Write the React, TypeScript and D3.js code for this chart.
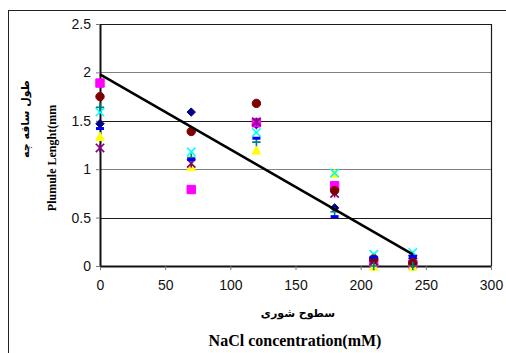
import React, { useEffect, useRef } from "react";
import * as d3 from "d3";

// salinity levels (mM NaCl)
const salinity = [0, 70, 120, 180, 210, 240];

// plumule length per cultivar (mm)
const seriesDiamond = [1.47, 1.59, 1.46, 0.6, 0.09, 0.08];
const seriesSquare = [1.89, 0.79, 1.48, 0.83, 0.03, 0.02];
const seriesTriangle = [1.34, 1.03, 1.2, 0.96, 0.0, 0.0];
const seriesX = [1.59, 1.18, 1.38, 0.96, 0.12, 0.14];
const seriesStar = [1.22, 1.06, 1.49, 0.75, 0.05, 0.07];
const seriesCircle = [1.75, 1.39, 1.68, 0.78, 0.07, 0.03];
const seriesPlus = [1.64, 1.12, 1.28, 0.56, 0.0, 0.0];
const seriesDash = [1.42, 1.1, 1.32, 0.51, 0.09, 0.1];

// linear trend line end points
const trendX = [0, 240];
const trendY = [1.98, 0.12];

const xTicks = [0, 50, 100, 150, 200, 250, 300];
const yTicks = [0, 0.5, 1, 1.5, 2, 2.5];

const series = [
  { name: "diamond", values: seriesDiamond, color: "#000080" },
  { name: "square", values: seriesSquare, color: "#ff00ff" },
  { name: "triangle", values: seriesTriangle, color: "#ffff00" },
  { name: "x", values: seriesX, color: "#00ffff" },
  { name: "star", values: seriesStar, color: "#800080" },
  { name: "circle", values: seriesCircle, color: "#800000" },
  { name: "plus", values: seriesPlus, color: "#008080" },
  { name: "dash", values: seriesDash, color: "#0000ff" },
];

const markerPath = (shape: string, s: number) => {
  switch (shape) {
    case "diamond":
      return `M0,${-s}L${s},0L0,${s}L${-s},0Z`;
    case "square":
      return `M${-s},${-s}H${s}V${s}H${-s}Z`;
    case "triangle":
      return `M0,${-s}L${s},${s}H${-s}Z`;
    case "circle":
      return `M${s},0A${s},${s},0,1,1,${-s},0A${s},${s},0,1,1,${s},0Z`;
    case "x":
      return `M${-s},${-s}L${s},${s}M${-s},${s}L${s},${-s}`;
    case "star":
      return `M${-s},${-s}L${s},${s}M${-s},${s}L${s},${-s}M0,${-s}V${s}`;
    case "plus":
      return `M${-s},0H${s}M0,${-s}V${s}`;
    default:
      return `M${-s},0H${s}`;
  }
};

const App = () => {
  const ref = useRef<SVGSVGElement>(null);

  useEffect(() => {
    const svg = d3.select(ref.current);
    svg.selectAll("*").remove();

    const x = d3.scaleLinear().domain([0, 300]).range([100, 491]);
    const y = d3.scaleLinear().domain([0, 2.5]).range([266, 24]);

    // outer frame (clipped at right and bottom)
    svg
      .append("rect")
      .attr("x", 8.5)
      .attr("y", 10.5)
      .attr("width", 520)
      .attr("height", 360)
      .attr("fill", "none")
      .attr("stroke", "#222")
      .attr("stroke-width", 1);

    // gridlines
    svg
      .append("g")
      .selectAll("line")
      .data(yTicks.filter((d) => d > 0 && d < 2.5))
      .enter()
      .append("line")
      .attr("x1", x(0))
      .attr("x2", x(300))
      .attr("y1", (d) => Math.round(y(d)) + 0.5)
      .attr("y2", (d) => Math.round(y(d)) + 0.5)
      .attr("stroke", (d) => (d === 1 || d === 2 ? "#808080" : "#1a1a1a"))
      .attr("stroke-width", 1);

    // plot border top / right
    svg
      .append("path")
      .attr("d", `M${x(0)},${y(2.5) + 0.5}H${x(300) + 0.5}V${y(0)}`)
      .attr("fill", "none")
      .attr("stroke", "#1a1a1a")
      .attr("stroke-width", 1.2);

    const font = "'Liberation Sans', Arial, sans-serif";
    const serif = "'Liberation Serif', serif";

    // x axis
    const xAxis = svg
      .append("g")
      .attr("transform", `translate(0,${y(0)})`)
      .call(
        d3
          .axisBottom(x)
          .tickValues(xTicks)
          .tickSize(4)
          .tickSizeOuter(0)
          .tickFormat((d) => String(d))
      );
    xAxis.select(".domain").attr("stroke", "#111").attr("stroke-width", 2);
    xAxis.selectAll(".tick line").attr("stroke", "#777");
    xAxis
      .selectAll("text")
      .attr("y", 14)
      .attr("fill", "#111")
      .style("font-family", font)
      .style("font-size", "14px");

    // y axis
    const yAxis = svg
      .append("g")
      .attr("transform", `translate(${x(0)},0)`)
      .call(
        d3
          .axisLeft(y)
          .tickValues(yTicks)
          .tickSize(4)
          .tickSizeOuter(0)
          .tickFormat((d) => String(d))
      );
    yAxis.select(".domain").attr("stroke", "#111").attr("stroke-width", 2);
    yAxis.selectAll(".tick line").attr("stroke", "#777");
    yAxis
      .selectAll("text")
      .attr("x", -9)
      .attr("fill", "#111")
      .style("font-family", font)
      .style("font-size", "14px");

    // data markers
    series.forEach((s) => {
      const filled = ["diamond", "square", "triangle", "circle"].includes(s.name);
      svg
        .append("g")
        .selectAll("path")
        .data(s.values)
        .enter()
        .append("path")
        .attr("transform", (d, i) => `translate(${x(salinity[i])},${y(d)})`)
        .attr("d", markerPath(s.name, s.name === "dash" ? 4 : 4.2))
        .attr("fill", filled ? s.color : "none")
        .attr("stroke", s.color)
        .attr("stroke-width", s.name === "dash" ? 3 : filled ? 1 : 1.6);
    });

    // trend line
    svg
      .append("line")
      .attr("x1", x(trendX[0]))
      .attr("y1", y(trendY[0]))
      .attr("x2", x(trendX[1]))
      .attr("y2", y(trendY[1]))
      .attr("stroke", "#000")
      .attr("stroke-width", 2.5);

    // axis titles
    svg
      .append("text")
      .attr("transform", "translate(25,119) rotate(-90)")
      .attr("text-anchor", "middle")
      .attr("dominant-baseline", "central")
      .style("font-family", "'DejaVu Sans', sans-serif")
      .style("font-weight", "bold")
      .style("font-size", "11px")
      .text("طول ساقه چه");

    svg
      .append("text")
      .attr("transform", "translate(52,158) rotate(-90)")
      .attr("text-anchor", "middle")
      .attr("dominant-baseline", "central")
      .style("font-family", serif)
      .style("font-weight", "bold")
      .style("font-size", "12px")
      .text("Plumule Lenght(mm");

    svg
      .append("text")
      .attr("x", 298)
      .attr("y", 313)
      .attr("text-anchor", "middle")
      .attr("dominant-baseline", "central")
      .style("font-family", "'DejaVu Sans', sans-serif")
      .style("font-weight", "bold")
      .style("font-size", "11px")
      .text("سطوح شوری");

    svg
      .append("text")
      .attr("x", 295)
      .attr("y", 340)
      .attr("text-anchor", "middle")
      .attr("dominant-baseline", "central")
      .style("font-family", serif)
      .style("font-weight", "bold")
      .style("font-size", "16px")
      .text("NaCl concentration(mM)");
  }, []);

  return (
    <svg
      ref={ref}
      width={506}
      height={353}
      style={{ position: "absolute", left: 0, top: 0, background: "#fff" }}
    ></svg>
  );
};

export default App;
